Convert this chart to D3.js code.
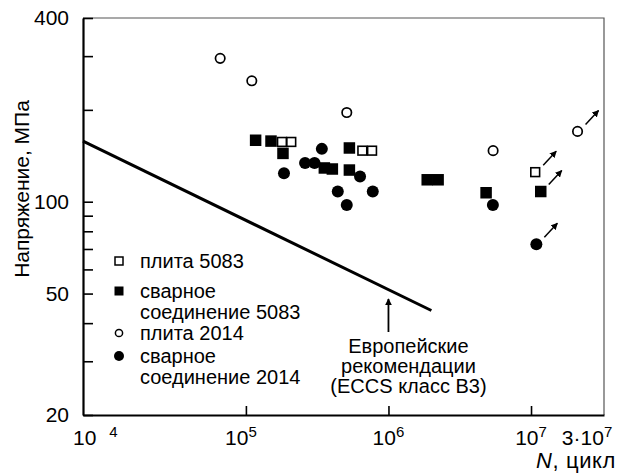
<!DOCTYPE html>
<html>
<head>
<meta charset="utf-8">
<script src="https://cdn.jsdelivr.net/npm/d3@7"></script>
<style>
  body { margin: 0; background: #fff; }
  svg { display: block; font-family: "Liberation Sans", Arial, sans-serif; }
</style>
</head>
<body>
<div id="chart"></div>
<script>
// S-N data, N in cycles, stress in MPa
var plate5083 = [
  { n: 1.79e5, s: 157 }, { n: 2.08e5, s: 157 },
  { n: 6.56e5, s: 147 }, { n: 7.67e5, s: 147 },
  { n: 1.07e7, s: 125, runout: true }
];
var weld5083 = [
  { n: 1.17e5, s: 159 }, { n: 1.50e5, s: 158 }, { n: 1.82e5, s: 144 },
  { n: 3.55e5, s: 129 }, { n: 4.04e5, s: 128 }, { n: 5.32e5, s: 150 },
  { n: 5.32e5, s: 127 }, { n: 1.87e6, s: 118 }, { n: 2.23e6, s: 118 },
  { n: 4.84e6, s: 107 }, { n: 1.17e7, s: 108, runout: true }
];
var plate2014 = [
  { n: 6.6e4, s: 295 }, { n: 1.10e5, s: 249 }, { n: 5.1e5, s: 196 },
  { n: 5.42e6, s: 147 }, { n: 2.12e7, s: 170, runout: true }
];
var weld2014 = [
  { n: 1.85e5, s: 124 }, { n: 2.60e5, s: 134 }, { n: 3.03e5, s: 134 },
  { n: 3.41e5, s: 149 }, { n: 6.32e5, s: 121 }, { n: 4.41e5, s: 108 },
  { n: 7.76e5, s: 108 }, { n: 5.10e5, s: 97.5 }, { n: 5.40e6, s: 97.5 },
  { n: 1.09e7, s: 72.6, runout: true }
];
// ECCS design line
var eccsLine = [{ n: 7200, s: 158 }, { n: 2.0e6, s: 44 }];
var eccsNote = ["Европейские", "рекомендации", "(ECCS класс B3)"];
var eccsNoteAt = 1e6;

var xDomain = [7200, 3.25e7];
var yDomain = [20, 400];
var xTicks = [1e5, 1e6, 1e7];
var xTickExp = ["5", "6", "7"];
var yTicks = [20, 30, 40, 50, 60, 70, 80, 90, 100, 200, 300, 400];
var yLabels = [20, 50, 100, 400];

var legendItems = [
  { lines: ["плита 5083"], shape: "square", filled: false },
  { lines: ["сварное", "соединение 5083"], shape: "square", filled: true },
  { lines: ["плита 2014"], shape: "circle", filled: false },
  { lines: ["сварное", "соединение 2014"], shape: "circle", filled: true }
];

var W = 621, H = 473;
var margin = { top: 18, right: 17, bottom: 58, left: 83 };

var svg = d3.select("#chart").append("svg").attr("width", W).attr("height", H);

var x = d3.scaleLog().domain(xDomain).range([margin.left, W - margin.right]);
var y = d3.scaleLog().domain(yDomain).range([H - margin.bottom, margin.top]);

// --- thin top/right frame ---
svg.append("path")
  .attr("d", "M" + margin.left + "," + margin.top + "H" + (W - margin.right) + "V" + (H - margin.bottom))
  .attr("fill", "none").attr("stroke", "#555").attr("stroke-width", 1.2);

// --- y axis ---
var yAxis = svg.append("g")
  .attr("transform", "translate(" + margin.left + ",0)")
  .call(d3.axisLeft(y).tickValues(yTicks).tickSize(-10).tickSizeOuter(0).tickPadding(14)
    .tickFormat(function (d) { return yLabels.indexOf(d) >= 0 ? d : ""; }));
yAxis.select(".domain").attr("stroke-width", 2.2);
yAxis.selectAll(".tick line").attr("stroke-width", 1.6);
yAxis.selectAll(".tick text").attr("font-size", 21).attr("fill", "#000")
  .attr("font-family", "Liberation Sans, Arial, sans-serif");

// --- x axis ---
var xAxis = svg.append("g")
  .attr("transform", "translate(0," + (H - margin.bottom) + ")")
  .call(d3.axisBottom(x).tickValues(xTicks).tickSize(-9).tickSizeOuter(0).tickFormat(""));
xAxis.select(".domain").attr("stroke-width", 2.2);
xAxis.selectAll(".tick line").attr("stroke-width", 1.6);

function powLabel(px, pre, exp, anchor) {
  var t = svg.append("text")
    .attr("x", px).attr("y", H - margin.bottom + 30)
    .attr("text-anchor", anchor || "middle")
    .attr("font-size", 21);
  t.append("tspan").text(pre);
  t.append("tspan").attr("dy", -8).attr("font-size", 15).text(exp);
  return t;
}
xTicks.forEach(function (v, i) { powLabel(x(v) - (i === 0 ? 5 : 0), "10", xTickExp[i]); });
// edge labels
var lab4 = svg.append("text").attr("x", x(xDomain[0]) - 10).attr("y", H - margin.bottom + 30)
  .attr("font-size", 21);
lab4.append("tspan").text("10");
lab4.append("tspan").attr("dx", 13).attr("dy", -8).attr("font-size", 15).text("4");
powLabel(x(3e7) - 12, "3·10", "7");

svg.append("text")
  .attr("x", W - 5).attr("y", 468)
  .attr("text-anchor", "end").attr("font-size", 22).attr("letter-spacing", 0.6)
  .html('<tspan font-style="italic">N</tspan>, цикл');

svg.append("text")
  .attr("transform", "translate(29," + (margin.top + 171) + ") rotate(-90)")
  .attr("text-anchor", "middle").attr("font-size", 21)
  .text("Напряжение, МПа");

// --- ECCS line ---
svg.append("path")
  .datum(eccsLine)
  .attr("d", d3.line().x(function (d) { return x(d.n); }).y(function (d) { return y(d.s); }))
  .attr("fill", "none").attr("stroke", "#000").attr("stroke-width", 3);

// arrow markers
var defs = svg.append("defs");
defs.append("marker").attr("id", "ah").attr("viewBox", "0 0 10 10")
  .attr("refX", 9).attr("refY", 5).attr("markerWidth", 7).attr("markerHeight", 7)
  .attr("markerUnits", "userSpaceOnUse").attr("orient", "auto")
  .append("path").attr("d", "M0,0L10,5L0,10Z").attr("fill", "#000");

// annotation
var ax = x(eccsNoteAt);
svg.append("line").attr("x1", ax).attr("x2", ax).attr("y1", 332).attr("y2", 299)
  .attr("stroke", "#000").attr("stroke-width", 1.8).attr("marker-end", "url(#ah)");
svg.append("g").selectAll("text").data(eccsNote).join("text")
  .attr("x", ax + 20).attr("y", function (d, i) { return 353 + i * 20; })
  .attr("text-anchor", "middle").attr("font-size", 20)
  .text(function (d) { return d; });

// --- points ---
var pts = svg.append("g");
function squares(data, filled) {
  var side = filled ? 11.5 : 8.8;
  pts.append("g").selectAll("rect").data(data).join("rect")
    .attr("x", function (d) { return x(d.n) - side / 2; })
    .attr("y", function (d) { return y(d.s) - side / 2; })
    .attr("width", side).attr("height", side)
    .attr("fill", filled ? "#000" : "#fff")
    .attr("stroke", filled ? "none" : "#000").attr("stroke-width", 1.6);
}
function circles(data, filled) {
  pts.append("g").selectAll("circle").data(data).join("circle")
    .attr("cx", function (d) { return x(d.n); })
    .attr("cy", function (d) { return y(d.s); })
    .attr("r", filled ? 6 : 4.7)
    .attr("fill", filled ? "#000" : "#fff")
    .attr("stroke", filled ? "none" : "#000").attr("stroke-width", 1.7);
}
squares(weld5083, true);
squares(plate5083, false);
circles(weld2014, true);
circles(plate2014, false);

// run-out arrows
var runouts = [].concat(plate5083, weld5083, plate2014, weld2014).filter(function (d) { return d.runout; });
pts.append("g").selectAll("line").data(runouts).join("line")
  .attr("x1", function (d) { return x(d.n) + 8; })
  .attr("y1", function (d) { return y(d.s) - 7; })
  .attr("x2", function (d) { return x(d.n) + 21; })
  .attr("y2", function (d) { return y(d.s) - 21; })
  .attr("stroke", "#000").attr("stroke-width", 1.5).attr("marker-end", "url(#ah)");

// --- legend ---
var legend = svg.append("g");
var entryY = [268, 298, 340, 363];
legendItems.forEach(function (it, i) {
  var by = entryY[i];
  var cy = by - 7;
  if (it.shape === "square") {
    var side = 8;
    legend.append("rect").attr("x", 119 - side / 2).attr("y", cy - side / 2)
      .attr("width", side).attr("height", side)
      .attr("fill", it.filled ? "#000" : "#fff")
      .attr("stroke", "#000").attr("stroke-width", it.filled ? 1 : 1.5);
  } else {
    legend.append("circle").attr("cx", 119).attr("cy", cy).attr("r", it.filled ? 5 : 3.6)
      .attr("fill", it.filled ? "#000" : "#fff")
      .attr("stroke", "#000").attr("stroke-width", it.filled ? 0 : 1.5);
  }
  it.lines.forEach(function (t, j) {
    legend.append("text").attr("x", 140).attr("y", by + j * 21)
      .attr("font-size", 20).text(t);
  });
});
</script>
</body>
</html>
